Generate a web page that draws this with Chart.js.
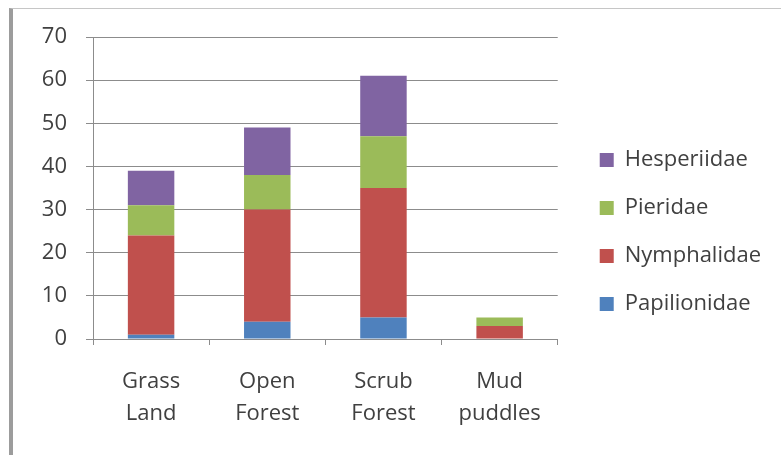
<!DOCTYPE html>
<html>
<head>
<meta charset="utf-8">
<script src="https://cdn.jsdelivr.net/npm/chart.js@4.4.1/dist/chart.umd.min.js"></script>
<style>
  html, body { margin: 0; padding: 0; background: #ffffff; }
  #wrap { position: relative; width: 781px; height: 455px; overflow: hidden; }
  #chart { position: absolute; left: 0; top: 0; }
  #frame {
    position: absolute; left: 9px; top: 8px; right: 0; bottom: 0;
    border-left: 4px solid #9c9c9c; border-top: 1px solid #c6c6c6;
    pointer-events: none;
  }
</style>
</head>
<body>
<div id="wrap">
  <canvas id="chart" width="781" height="455"></canvas>
  <div id="frame"></div>
</div>
<script>
// Butterfly species counts per habitat, by family
const habitats = [["Grass", "Land"], ["Open", "Forest"], ["Scrub", "Forest"], ["Mud", "puddles"]];
const papilionidae = [1, 4, 5, 0];
const nymphalidae = [23, 26, 30, 3];
const pieridae = [7, 8, 12, 2];
const hesperiidae = [8, 11, 14, 0];
const yTicks = [0, 10, 20, 30, 40, 50, 60, 70];

const FONT = "'Open Sans', 'Liberation Sans', sans-serif";
const TEXT = '#404040';
const GRID = '#8c8c8c';

new Chart(document.getElementById('chart'), {
  type: 'bar',
  data: {
    labels: habitats,
    datasets: [
      { label: 'Papilionidae', data: papilionidae, backgroundColor: '#4f81bd' },
      { label: 'Nymphalidae', data: nymphalidae, backgroundColor: '#c0504d' },
      { label: 'Pieridae', data: pieridae, backgroundColor: '#9bbb59' },
      { label: 'Hesperiidae', data: hesperiidae, backgroundColor: '#8064a2' }
    ]
  },
  options: {
    responsive: false,
    animation: false,
    devicePixelRatio: 1,
    layout: { padding: { left: 13, top: 37, right: 10, bottom: 28 } },
    datasets: { bar: { categoryPercentage: 1.0, barPercentage: 0.4 } },
    scales: {
      x: {
        stacked: true,
        afterFit: (s) => { s.height = 88; },
        grid: { display: true, drawOnChartArea: false, drawTicks: true, tickLength: 6, color: GRID, offset: true },
        border: { display: true, color: GRID, width: 1 },
        ticks: { color: TEXT, font: { family: FONT, size: 22, lineHeight: 1.45 }, padding: 21, maxRotation: 0, autoSkip: false }
      },
      y: {
        stacked: true,
        min: 0,
        max: yTicks[yTicks.length - 1],
        afterFit: (s) => { s.width = 80; },
        afterBuildTicks: (s) => { s.ticks = yTicks.map(v => ({ value: v })); },
        grid: { color: GRID, lineWidth: 1, tickLength: 7 },
        border: { display: true, color: GRID, width: 1 },
        ticks: { color: TEXT, font: { family: FONT, size: 22 }, padding: 19 }
      },
      gap: {
        type: 'linear',
        position: 'right',
        display: true,
        afterFit: (s) => { s.width = 16; },
        grid: { display: false },
        border: { display: false },
        ticks: { display: false }
      }
    },
    plugins: {
      legend: {
        position: 'right',
        reverse: true,
        maxWidth: 240,
        labels: {
          boxWidth: 14, boxHeight: 14, padding: 26,
          color: TEXT,
          font: { family: FONT, size: 22 }
        }
      },
      tooltip: { enabled: false }
    }
  }
});
</script>
</body>
</html>
